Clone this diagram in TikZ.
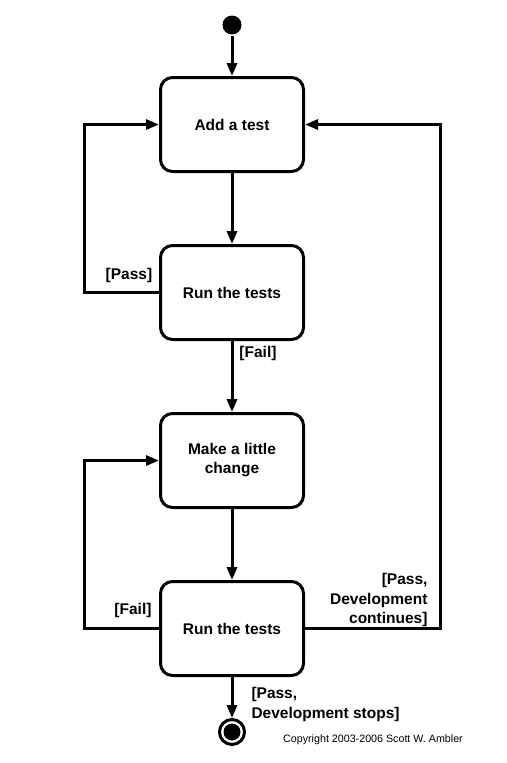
\documentclass[tikz,border=0pt]{standalone}
\usepackage{fontspec}
\setmainfont{Liberation Sans}
\usetikzlibrary{arrows.meta}

\begin{document}
\begin{tikzpicture}[x=1pt, y=-1pt, line width=3pt,
		state/.style={draw, rounded corners=12pt, minimum width=143pt, minimum height=94pt, align=center, font=\fontsize{15.5}{19}\selectfont\bfseries},
		guard/.style={inner sep=0pt, font=\fontsize{15.5}{19.5}\selectfont\bfseries},
		flow/.style={-{Triangle[length=13pt,width=10pt]}}]
			\useasboundingbox (0,0) rectangle (506,763);
			\node[circle, fill, inner sep=0pt, minimum size=19pt] (start) at (232,25) {};
			\node[state] (add) at (232,124.5) {Add a test};
			\node[state] (run1) at (232,292.5) {Run the tests};
			\node[state] (change) at (232,460.5) {Make a little\\change};
			\node[state] (run2) at (232,628.5) {Run the tests};
			\node[circle, draw, inner sep=0pt, minimum size=25pt] (stop) at (232,732) {};
			\fill (stop.center) circle (8.5pt);
			\node[guard] (pass1) at (129,275) {[Pass]};
			\node[guard] (fail1) at (258,353) {[Fail]};
			\node[guard] (fail2) at (133,610) {[Fail]};
			\node[guard, anchor=east, align=right] (passgo) at (429,600) {[Pass,\\Development\\continues]};
			\node[guard, anchor=west, align=left] (passend) at (250,704.5) {[Pass,\\Development stops]};
			\node[inner sep=0pt, font=\fontsize{10.7}{12}\selectfont] (copy) at (373,740) {Copyright 2003-2006 Scott W. Ambler};
			\draw[flow] (start) -- (add);
			\draw[flow] (add) -- (run1);
			\draw[flow] (run1) -- (change);
			\draw[flow] (change) -- (run2);
			\draw[flow] (run2) -- (stop);
			\draw[flow] (run1.west) -- ++(-74.5,0) |- (add.west);
			\draw[flow] (run2.west) -- ++(-74.5,0) |- (change.west);
			\draw[flow] (run2.east) -- ++(135.5,0) |- (add.east);
\end{tikzpicture}
\end{document}
